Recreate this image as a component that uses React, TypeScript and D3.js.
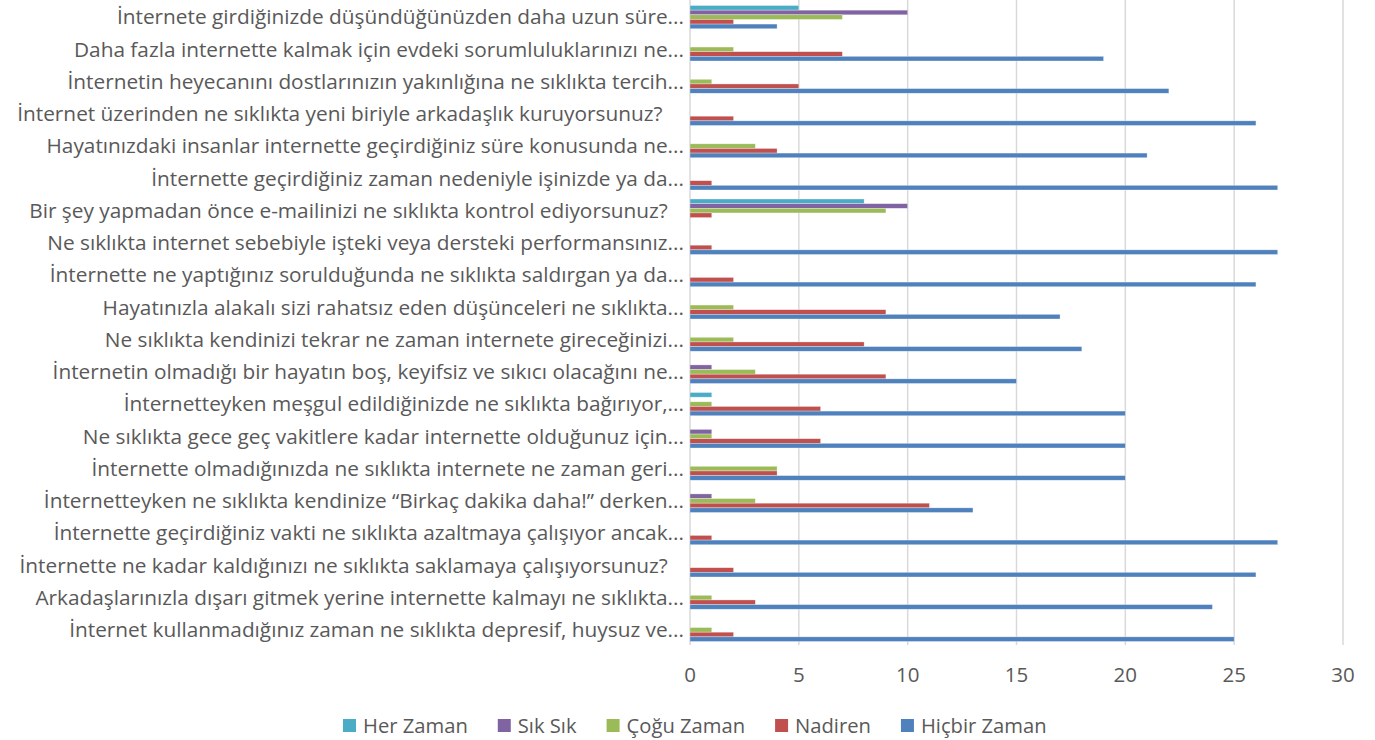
import { useEffect, useRef } from "react";
import * as d3 from "d3";

const categories = [
  "İnternete girdiğinizde düşündüğünüzden daha uzun süre...",
  "Daha fazla internette kalmak için evdeki sorumluluklarınızı ne...",
  "İnternetin heyecanını dostlarınızın yakınlığına ne sıklıkta tercih...",
  "İnternet üzerinden ne sıklıkta yeni biriyle arkadaşlık kuruyorsunuz?    ",
  "Hayatınızdaki insanlar internette geçirdiğiniz süre konusunda ne...",
  "İnternette geçirdiğiniz zaman nedeniyle işinizde ya da...",
  "Bir şey yapmadan önce e-mailinizi ne sıklıkta kontrol ediyorsunuz?   ",
  "Ne sıklıkta internet sebebiyle işteki veya dersteki performansınız...",
  "İnternette ne yaptığınız sorulduğunda ne sıklıkta saldırgan ya da...",
  "Hayatınızla alakalı sizi rahatsız eden düşünceleri ne sıklıkta...",
  "Ne sıklıkta kendinizi tekrar ne zaman internete gireceğinizi...",
  "İnternetin olmadığı bir hayatın boş, keyifsiz ve sıkıcı olacağını ne...",
  "İnternetteyken meşgul edildiğinizde ne sıklıkta bağırıyor,...",
  "Ne sıklıkta gece geç vakitlere kadar internette olduğunuz için...",
  "İnternette olmadığınızda ne sıklıkta internete ne zaman geri...",
  "İnternetteyken ne sıklıkta kendinize “Birkaç dakika daha!” derken...",
  "İnternette geçirdiğiniz vakti ne sıklıkta azaltmaya çalışıyor ancak...",
  "İnternette ne kadar kaldığınızı ne sıklıkta saklamaya çalışıyorsunuz?   ",
  "Arkadaşlarınızla dışarı gitmek yerine internette kalmayı ne sıklıkta...",
  "İnternet kullanmadığınız zaman ne sıklıkta depresif, huysuz ve...",
];

const seriesNames = ["Her Zaman", "Sık Sık", "Çoğu Zaman", "Nadiren", "Hiçbir Zaman"];
const seriesColors = ["#4BACC6", "#8064A2", "#9BBB59", "#C0504D", "#4F81BD"];

const herZaman = [5, 0, 0, 0, 0, 0, 8, 0, 0, 0, 0, 0, 1, 0, 0, 0, 0, 0, 0, 0];
const sikSik = [10, 0, 0, 0, 0, 0, 10, 0, 0, 0, 0, 1, 0, 1, 0, 1, 0, 0, 0, 0];
const coguZaman = [7, 2, 1, 0, 3, 0, 9, 0, 0, 2, 2, 3, 1, 1, 4, 3, 0, 0, 1, 1];
const nadiren = [2, 7, 5, 2, 4, 1, 1, 1, 2, 9, 8, 9, 6, 6, 4, 11, 1, 2, 3, 2];
const hicbirZaman = [4, 19, 22, 26, 21, 27, 0, 27, 26, 17, 18, 15, 20, 20, 20, 13, 27, 26, 24, 25];

const seriesValues = [herZaman, sikSik, coguZaman, nadiren, hicbirZaman];
const xTicks = [0, 5, 10, 15, 20, 25, 30];

export default function App() {
  const svgRef = useRef<SVGSVGElement>(null);

  useEffect(() => {
    if (!svgRef.current) return;
    const font = "'Open Sans', sans-serif";
    const textColor = "#595959";

    const svg = d3.select(svgRef.current);
    svg.selectAll("*").remove();

    const x = d3.scaleLinear().domain([0, 30]).range([690, 1343]);
    const y = d3
      .scaleBand<number>()
      .domain(d3.range(categories.length))
      .range([1, 646])
      .paddingInner(0.28)
      .paddingOuter(0.14);
    const inner = d3
      .scaleBand<number>()
      .domain(d3.range(seriesNames.length))
      .range([0, y.bandwidth()]);

    // grid lines
    svg
      .append("g")
      .selectAll("line")
      .data(xTicks)
      .join("line")
      .attr("x1", (d) => x(d))
      .attr("x2", (d) => x(d))
      .attr("y1", 0)
      .attr("y2", 645)
      .attr("stroke", "#D9D9D9")
      .attr("stroke-width", 1.5);

    // bars
    const groups = svg
      .append("g")
      .selectAll("g")
      .data(categories.map((_, i) => i))
      .join("g")
      .attr("transform", (i) => `translate(0,${y(i)})`);

    groups
      .selectAll("rect")
      .data((i) => seriesValues.map((vals, s) => ({ s, v: vals[i] })))
      .join("rect")
      .filter((d) => d.v > 0)
      .attr("x", x(0))
      .attr("y", (d) => inner(d.s)!)
      .attr("width", (d) => x(d.v) - x(0))
      .attr("height", inner.bandwidth())
      .attr("fill", (d) => seriesColors[d.s])
      .attr("stroke", "#ffffff")
      .attr("stroke-opacity", 0.5)
      .attr("stroke-width", 0.6);

    // category labels
    svg
      .append("g")
      .selectAll("text")
      .data(categories)
      .join("text")
      .attr("x", 684)
      .attr("y", (_, i) => y(i)! + y.bandwidth() / 2)
      .attr("dy", "0.35em")
      .attr("text-anchor", "end")
      .attr("font-family", font)
      .attr("font-size", 20.8)
      .attr("fill", textColor)
      .style("white-space", "pre")
      .text((d) => d);

    // x tick labels
    svg
      .append("g")
      .selectAll("text")
      .data(xTicks)
      .join("text")
      .attr("x", (d) => x(d))
      .attr("y", 675)
      .attr("dy", "0.35em")
      .attr("text-anchor", "middle")
      .attr("font-family", font)
      .attr("font-size", 20.5)
      .attr("fill", textColor)
      .text((d) => d);

    // legend
    const legend = svg.append("g").attr("transform", "translate(343,726)");
    let lx = 0;
    seriesNames.forEach((name, i) => {
      const item = legend.append("g").attr("transform", `translate(${lx},0)`);
      item
        .append("rect")
        .attr("x", 0)
        .attr("y", -7)
        .attr("width", 13)
        .attr("height", 13)
        .attr("fill", seriesColors[i]);
      const t = item
        .append("text")
        .attr("x", 20)
        .attr("dy", "0.35em")
        .attr("font-family", font)
        .attr("font-size", 20.2)
        .attr("fill", textColor)
        .text(name);
      const w = (t.node() as SVGTextElement).getComputedTextLength();
      lx += 20 + w + 30;
    });
  }, []);

  return (
    <svg
      ref={svgRef}
      width={1375}
      height={740}
      style={{ position: "absolute", left: 0, top: 0, background: "#fff" }}
    />
  );
}
